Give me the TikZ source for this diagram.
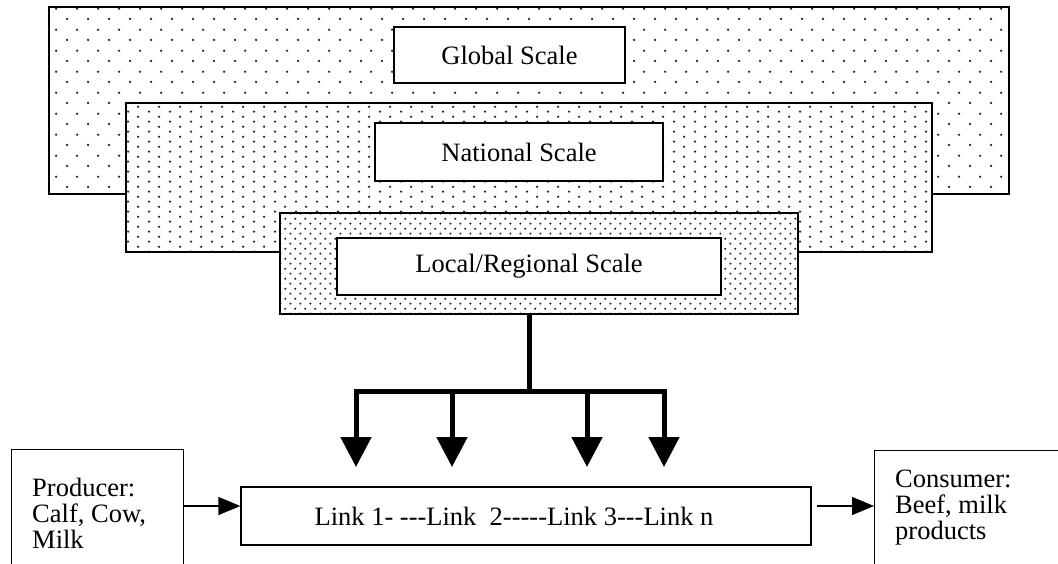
\documentclass[tikz,border=0pt]{standalone}
\usepackage{fontspec}
\setmainfont{Liberation Serif}[Ligatures=TeXOff]
\usetikzlibrary{arrows.meta,patterns}

% dot fillings for the three scales
\pgfdeclarepatternformonly{globaldots}{\pgfqpoint{0pt}{0pt}}{\pgfqpoint{20.6pt}{20.6pt}}{\pgfqpoint{20.6pt}{20.6pt}}{%
  \pgfpathcircle{\pgfqpoint{5.15pt}{5.15pt}}{1.3pt}%
  \pgfpathcircle{\pgfqpoint{15.45pt}{15.45pt}}{1.3pt}%
  \pgfusepath{fill}}
\pgfdeclarepatternformonly{nationaldots}{\pgfqpoint{0pt}{0pt}}{\pgfqpoint{20.6pt}{10.3pt}}{\pgfqpoint{20.6pt}{10.3pt}}{%
  \pgfpathcircle{\pgfqpoint{5.15pt}{2.575pt}}{1.3pt}%
  \pgfpathcircle{\pgfqpoint{15.45pt}{7.725pt}}{1.3pt}%
  \pgfusepath{fill}}
\pgfdeclarepatternformonly{localdots}{\pgfqpoint{0pt}{0pt}}{\pgfqpoint{10.3pt}{10.3pt}}{\pgfqpoint{10.3pt}{10.3pt}}{%
  \pgfpathcircle{\pgfqpoint{2.575pt}{2.575pt}}{1.2pt}%
  \pgfpathcircle{\pgfqpoint{7.725pt}{7.725pt}}{1.2pt}%
  \pgfusepath{fill}}

\tikzset{
  scaleframe/.style={draw, line width=1.5pt, preaction={fill=white}, pattern color=black!85, inner sep=0pt},
  scalelabel/.style={draw, fill=white, line width=1.3pt, inner sep=0pt},
  endbox/.style={draw, line width=1.3pt, inner sep=0pt, anchor=north west},
  endtext/.style={align=left, inner sep=0pt, anchor=north west},
  flow/.style={-{Triangle[length=22pt,width=18pt]}, line width=1.3pt},
  bigflow/.style={-{Triangle[length=30pt,width=30pt]}, line width=5pt, line join=miter},
  bigline/.style={line width=5pt}
}

\begin{document}
\begin{tikzpicture}[x=1pt, y=-1pt, font=\fontsize{26.5}{26}\selectfont]
        \useasboundingbox (0,0) rectangle (1058,563);
        \clip (0,0) rectangle (1058,563);

        % Nested scales
        \node[scaleframe, pattern=globaldots, minimum width=960pt, minimum height=187pt] (globalfr) at (529,100.5) {};
        \node[scaleframe, pattern=nationaldots, minimum width=806pt, minimum height=149pt] (nationalfr) at (529,177.5) {};
        \node[scaleframe, pattern=localdots, minimum width=518pt, minimum height=101pt] (localfr) at (539,263.5) {};

        % Labels
        \node[scalelabel, minimum width=231pt, minimum height=56pt] (globallbl) at (509.5,55) {Global Scale};
        \node[scalelabel, minimum width=288pt, minimum height=58pt] (nationallbl) at (519,152) {National Scale};
        \node[scalelabel, minimum width=384pt, minimum height=57pt] (locallbl) at (529,266.5) {Local/Regional Scale};

        % Chain
        \node[endbox, minimum width=172pt, minimum height=130pt] (producer) at (11,449) {};
        \node[endtext] (producertxt) at ([xshift=21pt, yshift=-29pt]producer.north west) {Producer:\\Calf, Cow,\\Milk};
        \node[scalelabel, minimum width=570pt, minimum height=58pt] (chain) at (526,516) {Link 1- ---Link\ \ 2-----Link 3---Link n\hspace*{24pt}};
        \node[endbox, minimum width=200pt, minimum height=130pt] (consumer) at (874,450) {};
        \node[endtext] (consumertxt) at ([xshift=21pt, yshift=-19.5pt]consumer.north west) {Consumer:\\Beef, milk\\products};

        \coordinate (inlet) at ([yshift=10pt]chain.west);
        \coordinate (outlet) at ([yshift=10pt]chain.east);
        \draw[flow] (inlet -| producer.east) -- (inlet);
        \draw[flow, shorten <=5pt] (outlet) -- (outlet -| consumer.west);

        % Branches from the local scale
        \coordinate (hub) at (529,391);
        \foreach \tx [count=\i] in {356,452,587,664}
            \coordinate (tip\i) at (\tx,467);
        \draw[bigline] (hub |- localfr.south) -- (hub);
        \foreach \i in {1,...,4}
            \draw[bigflow] (hub) -| (tip\i);

    \end{tikzpicture}
\end{document}
